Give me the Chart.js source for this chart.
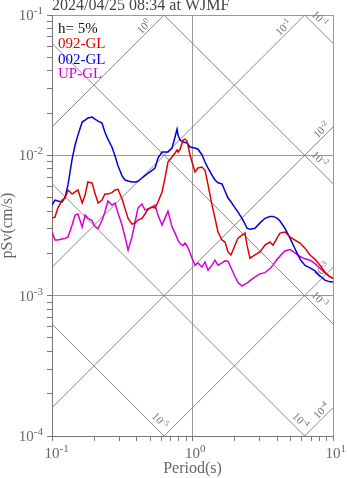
<!DOCTYPE html>
<html>
<head>
<meta charset="utf-8">
<script src="https://cdn.jsdelivr.net/npm/chart.js@4.4.1/dist/chart.umd.min.js"></script>
<style>
  html, body { margin: 0; padding: 0; background: #fff; }
  canvas { display: block; }
</style>
</head>
<body>
<canvas id="psvChart" width="347" height="478"></canvas>
<script>
const title = "2024/04/25 08:34 at WJMF";
const damping = "h= 5%";

// periods (s)
const periods = [
  0.100, 0.105, 0.110, 0.118, 0.124, 0.130, 0.139, 0.146, 0.153, 0.164,
  0.172, 0.180, 0.193, 0.202, 0.213, 0.227, 0.238, 0.250, 0.267, 0.281,
  0.295, 0.315, 0.331, 0.348, 0.371, 0.390, 0.409, 0.437, 0.459, 0.482,
  0.515, 0.541, 0.568, 0.607, 0.637, 0.669, 0.715, 0.751, 0.776, 0.789,
  0.815, 0.856, 0.884, 0.914, 0.960, 0.992, 1.042, 1.094, 1.168, 1.227,
  1.290, 1.377, 1.446, 1.519, 1.622, 1.704, 1.789, 1.879, 2.007, 2.108,
  2.251, 2.365, 2.443, 2.566, 2.785, 3.023, 3.281, 3.561, 3.741, 3.994,
  4.196, 4.554, 4.943, 5.364, 5.823, 6.320, 6.859, 7.445, 8.080, 8.770,
  9.365, 10.0
];

// pSv (cm/s), one value per period
const sv092 = [
  0.00357, 0.00363, 0.00421, 0.00480, 0.00496, 0.00566, 0.00530, 0.00548, 0.00566, 0.00457,
  0.00521, 0.00646, 0.00635, 0.00539, 0.00457, 0.00480, 0.00530, 0.00530, 0.00542, 0.00566,
  0.00573, 0.00490, 0.00417, 0.00355, 0.00323, 0.00329, 0.00346, 0.00355, 0.00382, 0.00414,
  0.00428, 0.00421, 0.00465, 0.00548, 0.00689, 0.00896, 0.00973, 0.01039, 0.01091, 0.01056,
  0.01100, 0.01285, 0.01306, 0.01264, 0.01005, 0.00896, 0.00761, 0.00812, 0.00826, 0.00786,
  0.00615, 0.00442, 0.00357, 0.00284, 0.00249, 0.00241, 0.00205, 0.00195, 0.00229, 0.00257,
  0.00270, 0.00279, 0.00229, 0.00185, 0.00195, 0.00205, 0.00229, 0.00241, 0.00229, 0.00257,
  0.00279, 0.00284, 0.00262, 0.00249, 0.00237, 0.00218, 0.00195, 0.00182, 0.00165, 0.00147,
  0.00138, 0.00133
];

const sv002 = [
  0.00442, 0.00480, 0.00473, 0.00465, 0.00505, 0.00615, 0.00941, 0.01184, 0.01395, 0.01727,
  0.01784, 0.01844, 0.01874, 0.01814, 0.01755, 0.01698, 0.01460, 0.01306, 0.01146, 0.00990,
  0.00843, 0.00714, 0.00667, 0.00656, 0.00646, 0.00646, 0.00653, 0.00689, 0.00717, 0.00745,
  0.00781, 0.00812, 0.00957, 0.01056, 0.01056, 0.01056, 0.01127, 0.01350, 0.01539, 0.01395,
  0.01285, 0.01244, 0.01234, 0.01224, 0.01146, 0.01138, 0.01127, 0.01106, 0.01010, 0.00896,
  0.00812, 0.00722, 0.00667, 0.00638, 0.00625, 0.00557, 0.00496, 0.00467, 0.00422, 0.00394,
  0.00355, 0.00324, 0.00303, 0.00297, 0.00302, 0.00330, 0.00356, 0.00367, 0.00367, 0.00357,
  0.00340, 0.00301, 0.00257, 0.00216, 0.00182, 0.00164, 0.00158, 0.00150, 0.00138, 0.00129,
  0.00126, 0.00125
];

const svUP = [
  0.00284, 0.00249, 0.00249, 0.00253, 0.00256, 0.00262, 0.00319, 0.00375, 0.00382, 0.00308,
  0.00375, 0.00357, 0.00342, 0.00311, 0.00301, 0.00345, 0.00394, 0.00473, 0.00442, 0.00457,
  0.00388, 0.00319, 0.00262, 0.00211, 0.00262, 0.00335, 0.00421, 0.00450, 0.00408, 0.00414,
  0.00428, 0.00442, 0.00375, 0.00319, 0.00357, 0.00401, 0.00308, 0.00279, 0.00258, 0.00249,
  0.00235, 0.00227, 0.00237, 0.00227, 0.00203, 0.00185, 0.00165, 0.00171, 0.00160, 0.00174,
  0.00152, 0.00165, 0.00179, 0.00165, 0.00171, 0.00177, 0.00176, 0.00158, 0.00137, 0.00124,
  0.00117, 0.00121, 0.00123, 0.00128, 0.00136, 0.00143, 0.00146, 0.00156, 0.00165, 0.00181,
  0.00192, 0.00208, 0.00213, 0.00202, 0.00190, 0.00183, 0.00179, 0.00169, 0.00157, 0.00145,
  0.00138, 0.00133
];

const seriesNames = ["092-GL", "002-GL", "UP-GL"];
const seriesColors = ["#e00000", "#0000e0", "#d800d8"];

// tripartite guide lines: displacement (cm) and acceleration (cm/s^2)
const dispLevels = [1e-5, 1e-4, 1e-3, 1e-2, 1e-1];
const accLevels = [1e-4, 1e-3, 1e-2, 1e-1, 1];

// axis decades
const xDecades = [-1, 0, 1];
const yDecades = [-4, -3, -2, -1];

const SERIF = '"Liberation Serif", "DejaVu Serif", serif';
const TWO_PI = 2 * Math.PI;

function toPoints(values) {
  return values.map((v, i) => ({ x: periods[i], y: v }));
}

function decadeTicks(decades) {
  const ticks = [];
  for (let i = 0; i < decades.length - 1; i++) {
    const base = Math.pow(10, decades[i]);
    for (let m = 1; m < 10; m++) {
      ticks.push({ value: m * base, major: m === 1 });
    }
  }
  ticks.push({ value: Math.pow(10, decades[decades.length - 1]), major: true });
  return ticks;
}

function powWidths(ctx, exp, size, supSize) {
  ctx.font = size + "px " + SERIF;
  const wb = ctx.measureText("10").width;
  ctx.font = supSize + "px " + SERIF;
  const we = ctx.measureText(exp).width;
  return [wb, we];
}

// "10" with a raised exponent, starting at x on baseline y
function drawPow(ctx, x, y, exp, size, supSize, rise) {
  const [wb] = powWidths(ctx, exp, size, supSize);
  ctx.font = size + "px " + SERIF;
  ctx.fillText("10", x, y);
  ctx.font = supSize + "px " + SERIF;
  ctx.fillText(exp, x + wb, y - rise);
}

function expText(v) {
  return String(Math.round(Math.log10(v)));
}

// label along a guide line, ending `back` px before its exit point
function guideLabel(ctx, px, py, angle, back, lift, exp) {
  const [wb, we] = powWidths(ctx, exp, 11, 8);
  ctx.save();
  ctx.translate(px, py);
  ctx.rotate(angle);
  drawPow(ctx, -back - wb - we, -lift, exp, 11, 8, 4);
  ctx.restore();
}

const guidePlugin = {
  id: "guides",
  beforeDatasetsDraw(chart) {
    const { ctx, chartArea: a, scales: { x, y } } = chart;
    const xMin = x.min, xMax = x.max, yMin = y.min, yMax = y.max;

    ctx.save();
    ctx.beginPath();
    ctx.rect(a.left, a.top, a.right - a.left, a.bottom - a.top);
    ctx.clip();
    ctx.strokeStyle = "#7a7a7a";
    ctx.lineWidth = 0.9;
    dispLevels.forEach((d) => {
      ctx.beginPath();
      ctx.moveTo(x.getPixelForValue(xMin), y.getPixelForValue(TWO_PI * d / xMin));
      ctx.lineTo(x.getPixelForValue(xMax), y.getPixelForValue(TWO_PI * d / xMax));
      ctx.stroke();
    });
    accLevels.forEach((s) => {
      ctx.beginPath();
      ctx.moveTo(x.getPixelForValue(xMin), y.getPixelForValue(s * xMin / TWO_PI));
      ctx.lineTo(x.getPixelForValue(xMax), y.getPixelForValue(s * xMax / TWO_PI));
      ctx.stroke();
    });
    ctx.restore();

    ctx.save();
    ctx.fillStyle = "#707070";
    ctx.textAlign = "left";
    ctx.textBaseline = "alphabetic";
    dispLevels.forEach((d) => {
      const rightExit = TWO_PI * d / xMax >= yMin;
      const t = rightExit ? xMax : TWO_PI * d / yMin;
      const px = x.getPixelForValue(t);
      const py = y.getPixelForValue(TWO_PI * d / t);
      const ang = Math.atan2(
        y.getPixelForValue(TWO_PI * d / xMax) - y.getPixelForValue(TWO_PI * d / xMin),
        x.getPixelForValue(xMax) - x.getPixelForValue(xMin)
      );
      guideLabel(ctx, px, py, ang, rightExit ? 18 : 5, 4.5, expText(d));
    });
    accLevels.forEach((s) => {
      const rightExit = s * xMax / TWO_PI <= yMax;
      const t = rightExit ? xMax : TWO_PI * yMax / s;
      const px = x.getPixelForValue(t);
      const py = y.getPixelForValue(s * t / TWO_PI);
      const ang = Math.atan2(
        y.getPixelForValue(s * xMax / TWO_PI) - y.getPixelForValue(s * xMin / TWO_PI),
        x.getPixelForValue(xMax) - x.getPixelForValue(xMin)
      );
      guideLabel(ctx, px, py, ang, rightExit ? 1.5 : 15, 2.5, expText(s));
    });
    ctx.restore();
  },
};

const textPlugin = {
  id: "texts",
  afterDraw(chart) {
    const { ctx, chartArea: a, scales: { x, y } } = chart;
    ctx.save();
    ctx.textBaseline = "alphabetic";
    ctx.textAlign = "left";

    ctx.fillStyle = "#444";
    ctx.font = "16px " + SERIF;
    ctx.fillText(title, a.left, 10);

    // tick labels
    ctx.fillStyle = "#666";
    yDecades.forEach((e) => {
      const exp = String(e);
      const [wb, we] = powWidths(ctx, exp, 15, 11);
      drawPow(ctx, 43 - wb - we, y.getPixelForValue(Math.pow(10, e)) + 5, exp, 15, 11, 6);
    });
    xDecades.forEach((e) => {
      const exp = String(e);
      const [wb] = powWidths(ctx, exp, 15, 11);
      drawPow(ctx, x.getPixelForValue(Math.pow(10, e)) - wb / 2, 458, exp, 15, 11, 6);
    });

    // axis titles
    ctx.font = "16px " + SERIF;
    ctx.textAlign = "center";
    ctx.fillText("Period(s)", (a.left + a.right) / 2, 473);
    ctx.save();
    ctx.translate(8, (a.top + a.bottom) / 2);
    ctx.rotate(-Math.PI / 2);
    ctx.textBaseline = "middle";
    ctx.fillText("pSv(cm/s)", 0, 0);
    ctx.restore();

    // legend block
    ctx.textAlign = "left";
    ctx.font = "15px " + SERIF;
    ctx.fillStyle = "#111";
    ctx.fillText(damping, 58, 33);
    const rows = [48, 64, 78];
    seriesNames.forEach((name, i) => {
      ctx.fillStyle = seriesColors[i];
      ctx.fillText(name, 58, rows[i]);
    });
    ctx.restore();
  },
};

const axisGrid = {
  color: (c) => (c.tick && c.tick.major ? "#999" : "rgba(0,0,0,0)"),
  lineWidth: 1,
  drawTicks: true,
  tickLength: 5,
  tickColor: "#777",
};

new Chart(document.getElementById("psvChart").getContext("2d"), {
  type: "line",
  data: {
    datasets: [sv092, sv002, svUP].map((vals, i) => ({
      label: seriesNames[i],
      data: toPoints(vals),
      borderColor: seriesColors[i],
      borderWidth: 1.5,
      pointRadius: 0,
      tension: 0,
      fill: false,
    })),
  },
  options: {
    responsive: false,
    devicePixelRatio: 1,
    animation: false,
    layout: { padding: { top: 15, right: 14, left: 0, bottom: 0 } },
    plugins: {
      legend: { display: false },
      tooltip: { enabled: false },
    },
    scales: {
      x: {
        type: "logarithmic",
        position: "bottom",
        min: 0.1,
        max: 10,
        afterBuildTicks: (s) => { s.ticks = decadeTicks(xDecades); },
        afterFit: (s) => { s.height = 42; },
        ticks: { display: false },
        grid: axisGrid,
        border: { display: true, color: "#777", width: 1 },
      },
      y: {
        type: "logarithmic",
        position: "left",
        min: 1e-4,
        max: 0.1,
        afterBuildTicks: (s) => { s.ticks = decadeTicks(yDecades); },
        afterFit: (s) => { s.width = 52; },
        ticks: { display: false },
        grid: axisGrid,
        border: { display: true, color: "#777", width: 1 },
      },
    },
  },
  plugins: [guidePlugin, textPlugin],
});
</script>
</body>
</html>
